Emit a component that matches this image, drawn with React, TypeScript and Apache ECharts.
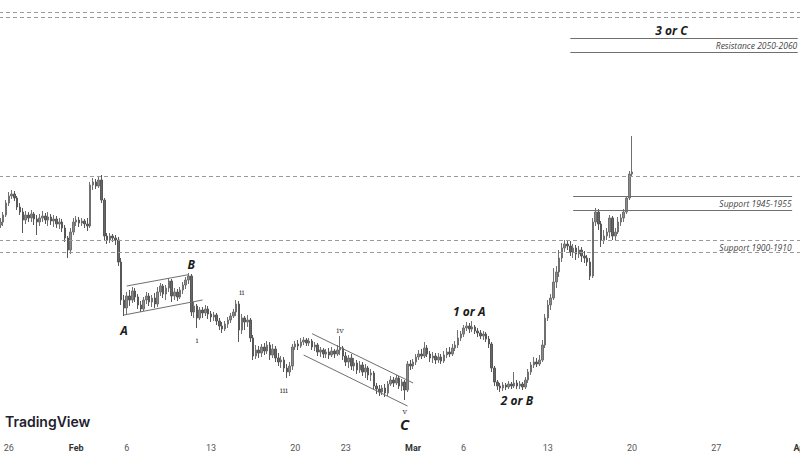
import React, { useEffect, useRef } from 'react';
import * as echarts from 'echarts';

// 4-hour bars: three bars from the Jan 25 session, then six bars per trading day
const leadBars = ['2023-01-25 12:00', '2023-01-25 16:00', '2023-01-25 20:00'];
const barHours = ['00:00', '04:00', '08:00', '12:00', '16:00', '20:00'];
const sessionDays = [
  '2023-01-26', '2023-01-27', '2023-01-30', '2023-01-31', '2023-02-01', '2023-02-02', '2023-02-03',
  '2023-02-06', '2023-02-07', '2023-02-08', '2023-02-09', '2023-02-10',
  '2023-02-13', '2023-02-14', '2023-02-15', '2023-02-16', '2023-02-17',
  '2023-02-20', '2023-02-21', '2023-02-22', '2023-02-23', '2023-02-24',
  '2023-02-27', '2023-02-28', '2023-03-01', '2023-03-02', '2023-03-03',
  '2023-03-06', '2023-03-07', '2023-03-08', '2023-03-09', '2023-03-10',
  '2023-03-13', '2023-03-14', '2023-03-15', '2023-03-16', '2023-03-17',
  '2023-03-20', '2023-03-21', '2023-03-22', '2023-03-23', '2023-03-24',
  '2023-03-27', '2023-03-28', '2023-03-29', '2023-03-30', '2023-03-31', '2023-04-03',
];

const tickDates = ['2023-01-26', '2023-02-01', '2023-02-06', '2023-02-13', '2023-02-20', '2023-02-23',
  '2023-03-01', '2023-03-06', '2023-03-13', '2023-03-20', '2023-03-27', '2023-04-03'];
const tickLabels = ['26', 'Feb', '6', '13', '20', '23', 'Mar', '6', '13', '20', '27', 'Apr'];

// [open, close, low, high]
const candles = [
  [1921.25, 1923.5, 1919, 1926.5], [1923.5, 1928.75, 1920.5, 1931], [1928.75, 1937.75, 1927.25, 1940],
  [1937.75, 1943, 1935.5, 1946], [1943, 1944.5, 1940.75, 1947.5], [1944.5, 1941.5, 1939.25, 1946.75],
  [1941.5, 1934.75, 1932.5, 1943], [1934.75, 1931, 1928.75, 1937.75], [1931, 1925, 1915.25, 1934],
  [1925, 1928.75, 1922, 1931.75], [1928.75, 1926.5, 1923.5, 1931], [1926.5, 1929.5, 1923.5, 1932.5],
  [1929.5, 1925.75, 1921.25, 1931], [1925.75, 1923.5, 1913.75, 1928.75], [1923.5, 1926.5, 1920.5, 1929.5],
  [1926.5, 1928, 1923.5, 1931.75], [1928, 1925, 1922, 1930.25], [1925, 1927.25, 1920.5, 1931],
  [1927.25, 1924.25, 1921.25, 1929.5], [1924.25, 1925.75, 1919.75, 1928.75], [1925.75, 1922, 1919, 1928],
  [1922, 1923.5, 1918.25, 1926.5], [1923.5, 1919, 1916, 1925.75], [1919, 1911.5, 1908.5, 1921.25],
  [1911.5, 1902.5, 1896.5, 1913], [1902.5, 1916, 1899.5, 1919], [1916, 1923.5, 1913.75, 1926.5],
  [1923.5, 1925, 1920.5, 1928], [1925, 1922.75, 1919.75, 1927.25], [1922.75, 1924.25, 1920.5, 1926.5],
  [1924.25, 1922, 1919, 1925.75], [1922, 1920.5, 1916.75, 1926.5], [1920.5, 1951.25, 1919, 1953.5],
  [1951.25, 1953.5, 1947.5, 1956.5], [1953.5, 1950.5, 1948.25, 1955.75], [1950.5, 1955, 1949, 1958],
  [1955, 1940, 1937.75, 1958.75], [1940, 1913, 1910, 1941.5], [1913, 1910, 1907, 1915.25],
  [1910, 1913, 1907.75, 1915.25], [1913, 1911.5, 1908.5, 1914.5], [1911.5, 1910, 1906.25, 1913.75],
  [1910, 1893.5, 1890.5, 1912.25], [1893.5, 1865, 1861.25, 1896.5], [1865, 1859, 1853, 1868.75],
  [1859, 1868, 1854.5, 1871], [1868, 1865, 1860.5, 1872.5], [1865, 1871.75, 1862.75, 1874.75],
  [1871.75, 1867.25, 1863.5, 1874], [1867.25, 1861.25, 1858.25, 1869.5], [1861.25, 1858.25, 1856, 1864.25],
  [1858.25, 1865, 1856.75, 1867.25], [1865, 1868, 1862, 1871], [1868, 1863.5, 1860.5, 1870.25],
  [1863.5, 1866.5, 1859.75, 1868.75], [1866.5, 1862, 1859, 1870.25], [1862, 1871, 1859.75, 1874.75],
  [1871, 1875.5, 1868, 1877.75], [1875.5, 1869.5, 1866.5, 1877], [1869.5, 1874, 1865, 1876.25],
  [1874, 1879.25, 1871, 1881.5], [1879.25, 1868, 1863.5, 1880.75], [1868, 1871, 1865, 1874],
  [1871, 1867.25, 1864.25, 1873.25], [1867.25, 1872.5, 1865.75, 1874.75], [1872.5, 1876.25, 1869.5, 1878.5],
  [1876.25, 1880, 1873.25, 1882.25], [1880, 1883, 1877, 1885.25], [1883, 1856, 1853, 1884.5],
  [1856, 1860.5, 1851.5, 1863.5], [1860.5, 1851.5, 1844, 1862], [1851.5, 1857.5, 1850, 1859.75],
  [1857.5, 1855.25, 1851.5, 1859.75], [1855.25, 1858.25, 1853, 1861.25], [1858.25, 1854.5, 1850.75, 1860.5],
  [1854.5, 1852.25, 1848.5, 1856.75], [1852.25, 1853.75, 1849.25, 1856], [1853.75, 1849.25, 1846.25, 1855.25],
  [1849.25, 1845.5, 1842.5, 1851.5], [1845.5, 1843.25, 1840.25, 1848.5], [1843.25, 1847, 1841.75, 1849.25],
  [1847, 1850, 1844, 1852.25], [1850, 1853, 1847.75, 1855.25], [1853, 1856, 1851.5, 1858.25],
  [1856, 1862, 1853, 1865], [1862, 1842.5, 1833.5, 1864.25], [1842.5, 1851.5, 1839.5, 1854.5],
  [1851.5, 1848.5, 1842.5, 1853], [1848.5, 1850, 1844.75, 1853.75], [1850, 1836.5, 1833.5, 1851.5],
  [1836.5, 1823, 1820, 1838.75], [1823, 1827.5, 1820.75, 1831.25], [1827.5, 1825.25, 1821.5, 1830.5],
  [1825.25, 1829.75, 1822.25, 1832], [1829.75, 1826.75, 1823.75, 1832.75], [1826.75, 1831.25, 1824.5, 1834.25],
  [1831.25, 1823.75, 1820, 1833.5], [1823.75, 1828.25, 1821.5, 1832], [1828.25, 1821.5, 1818.5, 1830.5],
  [1821.5, 1818.5, 1815.5, 1825.25], [1818.5, 1820, 1814, 1823], [1820, 1814, 1811, 1822.25],
  [1814, 1811, 1806.5, 1817], [1811, 1815.5, 1808, 1818.5], [1815.5, 1829.75, 1812.5, 1832],
  [1829.75, 1832, 1827.5, 1834.25], [1832, 1830.5, 1827.5, 1835], [1830.5, 1833.5, 1829, 1836.5],
  [1833.5, 1835, 1831.25, 1837.25], [1835, 1832.75, 1830.5, 1836.5], [1832.75, 1834.25, 1830.5, 1836.5],
  [1834.25, 1829.75, 1827.5, 1835.75], [1829.75, 1831.25, 1826.75, 1833.5], [1831.25, 1826, 1823, 1832.75],
  [1826, 1827.5, 1822.25, 1829.75], [1827.5, 1824.5, 1821.5, 1829], [1824.5, 1826, 1821.5, 1828.25],
  [1826, 1823.75, 1820.75, 1829], [1823.75, 1826.75, 1822.25, 1829.75], [1826.75, 1824.5, 1821.5, 1828.25],
  [1824.5, 1827.5, 1823, 1831.25], [1827.5, 1829, 1823.75, 1838], [1829, 1823, 1820, 1830.5],
  [1823, 1818.5, 1815.5, 1826], [1818.5, 1821.5, 1814, 1823.75], [1821.5, 1815.5, 1812.5, 1824.5],
  [1815.5, 1817.75, 1811.75, 1821.5], [1817.75, 1812.5, 1809.5, 1820], [1812.5, 1816.25, 1810.25, 1819.25],
  [1816.25, 1811, 1808, 1818.5], [1811, 1814, 1806.5, 1817], [1814, 1808.75, 1805, 1815.5],
  [1808.75, 1810.25, 1804.25, 1813.25], [1810.25, 1800.5, 1797.5, 1811.75], [1800.5, 1798.25, 1794.5, 1802.75],
  [1798.25, 1796, 1793, 1801.25], [1796, 1799, 1793.75, 1801.25], [1799, 1795.25, 1792.25, 1802],
  [1795.25, 1802, 1793, 1804.25], [1802, 1805, 1800.5, 1808], [1805, 1802.75, 1799.75, 1807.25],
  [1802.75, 1806.5, 1801.25, 1808.75], [1806.5, 1800.5, 1798.25, 1808], [1800.5, 1803.5, 1796.75, 1805.75],
  [1803.5, 1797.5, 1790, 1805], [1797.5, 1817, 1796, 1819.25], [1817, 1815.5, 1812.5, 1820],
  [1815.5, 1818.5, 1813.25, 1820.75], [1818.5, 1822.25, 1816.25, 1824.5], [1822.25, 1824.5, 1820, 1827.5],
  [1824.5, 1823, 1820.75, 1828.25], [1823, 1829, 1821.5, 1833.5], [1829, 1824.5, 1822.25, 1831.25],
  [1824.5, 1821.5, 1818.5, 1826.75], [1821.5, 1823, 1817.75, 1826], [1823, 1820, 1817, 1825.25],
  [1820, 1822.25, 1817.75, 1825.25], [1822.25, 1819.25, 1817, 1824.5], [1819.25, 1823.75, 1817.75, 1826.75],
  [1823.75, 1826, 1821.5, 1829], [1826, 1824.5, 1822.25, 1829.75], [1824.5, 1829, 1823, 1832],
  [1829, 1831.25, 1826.75, 1834.25], [1831.25, 1836.5, 1829, 1842.5], [1836.5, 1839.5, 1834.25, 1841.75],
  [1839.5, 1844, 1837.25, 1846.25], [1844, 1845.5, 1841.75, 1848.5], [1845.5, 1843.25, 1840.25, 1847.75],
  [1843.25, 1844.75, 1841, 1849.25], [1844.75, 1841.75, 1839.5, 1846.25], [1841.75, 1840.25, 1837.25, 1844],
  [1840.25, 1838, 1835.75, 1842.5], [1838, 1839.5, 1835, 1841.75], [1839.5, 1835.75, 1833.5, 1841],
  [1835.75, 1832, 1829, 1838], [1832, 1814, 1811, 1833.5], [1814, 1803.5, 1800.5, 1815.5],
  [1803.5, 1800.5, 1797.5, 1805], [1800.5, 1799, 1796, 1802.75], [1799, 1801.25, 1796.75, 1803.5],
  [1801.25, 1799.75, 1797.5, 1802.75], [1799.75, 1802, 1798.25, 1804.25], [1802, 1800.5, 1798.25, 1803.5],
  [1800.5, 1802.75, 1799, 1811], [1802.75, 1800.5, 1798.25, 1805], [1800.5, 1802, 1798.25, 1804.25],
  [1802, 1799.75, 1797.5, 1803.5], [1799.75, 1805, 1798.25, 1807.25], [1805, 1811, 1802.75, 1813.25],
  [1811, 1816.25, 1808.75, 1818.5], [1816.25, 1818.5, 1814, 1822.25], [1818.5, 1817, 1814.75, 1821.5],
  [1817, 1820, 1815.5, 1823.75], [1820, 1831.25, 1818.5, 1835], [1831.25, 1851.5, 1829, 1854.5],
  [1851.5, 1861.25, 1849.25, 1865], [1861.25, 1866.5, 1857.5, 1869.5], [1866.5, 1878.5, 1865, 1889],
  [1878.5, 1886, 1874, 1890.5], [1886, 1896.5, 1882.25, 1902.5], [1896.5, 1904, 1893.5, 1907.75],
  [1904, 1907, 1901, 1910], [1907, 1905.5, 1902.5, 1910], [1905.5, 1901, 1898, 1909.25],
  [1901, 1904, 1896.5, 1907], [1904, 1899.5, 1895, 1906.25], [1899.5, 1902.5, 1896.5, 1905.5],
  [1902.5, 1898, 1893.5, 1904.75], [1898, 1896.5, 1892.75, 1901.75], [1896.5, 1893.5, 1890.5, 1898.75],
  [1893.5, 1883, 1880, 1896.5], [1883, 1923.5, 1881.5, 1926.5], [1923.5, 1931, 1920.5, 1934],
  [1931, 1922, 1917.5, 1933.25], [1922, 1910, 1904.75, 1924.25], [1910, 1913, 1907, 1917.5],
  [1913, 1916, 1910, 1919], [1916, 1926.5, 1911.5, 1928.75], [1926.5, 1913, 1910, 1928],
  [1913, 1916, 1910, 1919], [1916, 1923.5, 1914.5, 1927.25], [1923.5, 1926.5, 1920.5, 1929.5],
  [1926.5, 1931, 1923.5, 1933.25], [1931, 1941.5, 1929.5, 1943], [1941.5, 1959.5, 1940, 1961.75],
  [1959.5, 1961, 1958, 1988],
];

// horizontal dashed levels across the whole chart
const dashedLevels = [2081, 2077, 1958, 1910, 1901];

// drawn trend / zone lines: [fromBar, fromPrice, toBar, toPrice]
const drawnLines = [
  [44, 1853.75, 72, 1865],
  [45, 1875.5, 67, 1884],
  [111, 1839.75, 147, 1802.75],
  [108, 1823.75, 145, 1785.5],
  [203, 2061, 284, 2061],
  [203, 2051, 284, 2051],
  [204, 1942.5, 282, 1942.5],
  [204, 1932.5, 282, 1932.5],
];

// wave labels: [text, bar, price]
const waveLabels: [string, number, number][] = [
  ['A', 44, 1842.5],
  ['B', 68, 1892],
  ['1 or A', 167, 1856.75],
  ['2 or B', 184, 1790],
  ['3 or C', 239, 2067.5],
];
const bigLabel: [string, number, number] = ['C', 144, 1772];
const subWaveLabels: [string, number, number][] = [
  ['i', 70, 1835],
  ['ii', 86, 1871],
  ['iii', 101, 1797.5],
  ['iv', 121, 1842.5],
  ['v', 144, 1781.75],
];
const zoneLabels: [string, number, number][] = [
  ['Resistance 2050-2060', 284, 2056],
  ['Support 1945-1955', 282, 1937.75],
  ['Support 1900-1910', 282, 1904.75],
];

export default function App() {
  const ref = useRef<HTMLDivElement>(null);

  useEffect(() => {
    if (!ref.current) return;
    const chart = echarts.init(ref.current, undefined, { renderer: 'svg' });

    const categories = [
      ...leadBars,
      ...sessionDays.flatMap((d) => barHours.map((h) => `${d} ${h}`)),
    ];
    const tickMap = new Map<string, string>(
      tickDates.map((d, i) => [`${d} 00:00`, tickLabels[i]])
    );

    const transparent = { color: 'rgba(0,0,0,0)' };
    const baseText = { fontFamily: 'Open Sans', fontStyle: 'italic' as const };

    const markPoints = [
      ...waveLabels.map(([t, b, p]) => ({
        coord: [b, p],
        symbolSize: 1,
        itemStyle: transparent,
        label: {
          show: true, position: 'inside', formatter: t, ...baseText,
          fontWeight: 'bold', fontSize: 12, color: '#1c1c1c',
        },
      })),
      {
        coord: [bigLabel[1], bigLabel[2]],
        symbolSize: 1,
        itemStyle: transparent,
        label: {
          show: true, position: 'inside', formatter: bigLabel[0], ...baseText,
          fontWeight: 'bold', fontSize: 15, color: '#1c1c1c',
        },
      },
      ...subWaveLabels.map(([t, b, p]) => ({
        coord: [b, p],
        symbolSize: 1,
        itemStyle: transparent,
        label: {
          show: true, position: 'inside', formatter: t,
          fontFamily: 'DejaVu Serif', fontSize: 8, color: '#444',
        },
      })),
      ...zoneLabels.map(([t, b, p]) => ({
        coord: [b, p],
        symbolSize: 1,
        itemStyle: transparent,
        label: {
          show: true, position: 'left', distance: 0, formatter: t, ...baseText,
          fontSize: 8.5, color: '#444',
        },
      })),
    ];

    const option: any = {
      animation: false,
      backgroundColor: '#ffffff',
      grid: { left: -1, width: 817, top: 0, height: 435, outerBoundsMode: 'none', containLabel: false },
      xAxis: {
        type: 'category',
        data: categories,
        boundaryGap: true,
        axisLine: { show: false },
        axisTick: { show: false },
        splitLine: { show: false },
        axisLabel: {
          interval: (_i: number, v: string) => tickMap.has(v),
          formatter: (v: string) => {
            const t = tickMap.get(v) || '';
            return /^[A-Z]/.test(t) ? `{m|${t}}` : `{d|${t}}`;
          },
          margin: 8,
          hideOverlap: false,
          rich: {
            m: { fontFamily: 'Roboto', fontSize: 9, fontWeight: 'bold', color: '#333' },
            d: { fontFamily: 'Roboto', fontSize: 9, color: '#555' },
          },
        },
      },
      yAxis: {
        type: 'value',
        min: 1763.75,
        max: 2090,
        show: false,
        splitLine: { show: false },
      },
      series: [
        {
          type: 'candlestick',
          data: candles,
          barWidth: 2,
          clip: false,
          itemStyle: {
            color: '#8a8a8a',
            color0: '#666666',
            borderColor: '#707070',
            borderColor0: '#575757',
            borderWidth: 1,
          },
          markLine: {
            silent: true,
            symbol: ['none', 'none'],
            label: { show: false },
            data: [
              ...dashedLevels.map((v) => ({
                yAxis: v,
                lineStyle: { type: [4, 3], color: '#9a9a9a', width: 1 },
              })),
              ...drawnLines.map(([b0, p0, b1, p1]) => [
                { coord: [b0, p0], lineStyle: { type: 'solid', color: '#6f6f6f', width: 1 } },
                { coord: [b1, p1] },
              ]),
            ],
          },
          markPoint: {
            silent: true,
            symbol: 'circle',
            data: markPoints,
          },
        },
      ],
      graphic: [
        {
          type: 'text',
          left: 5,
          top: 414,
          style: {
            text: 'TradingView',
            fontFamily: 'Inter',
            fontSize: 14,
            fontWeight: 600,
            fill: '#1e222d',
          },
        },
      ],
    };

    chart.setOption(option);
    return () => chart.dispose();
  }, []);

  return (
    <div
      ref={ref}
      style={{ position: 'fixed', left: 0, top: 0, width: 800, height: 458, background: '#fff' }}
    />
  );
}
